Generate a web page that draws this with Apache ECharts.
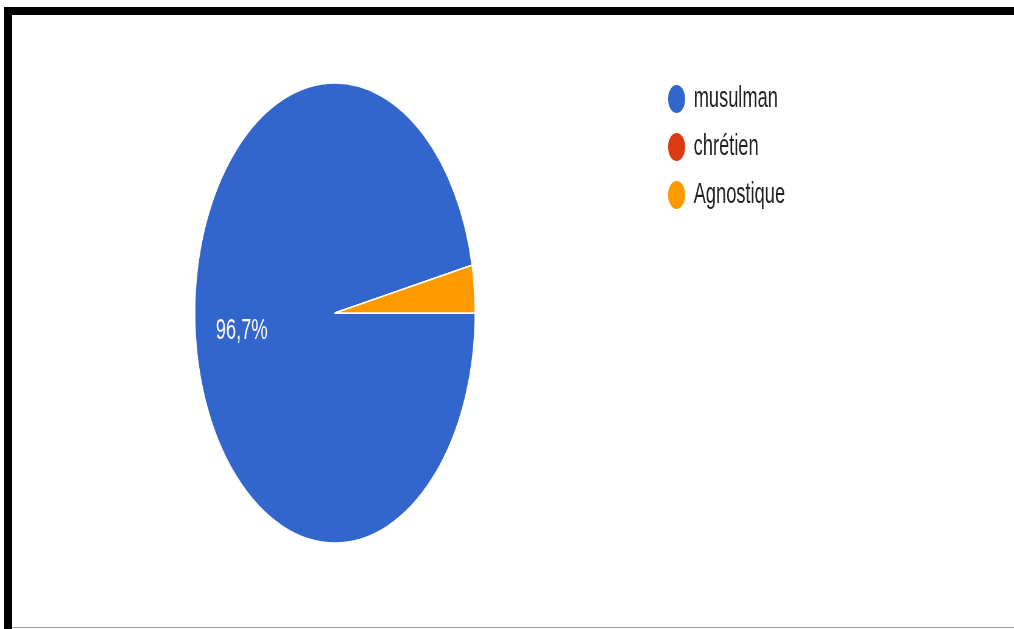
<!DOCTYPE html>
<html>
<head>
<meta charset="utf-8">
<script src="https://cdn.jsdelivr.net/npm/echarts@6/dist/echarts.min.js"></script>
<style>
    html, body { margin:0; padding:0; background:#fff; overflow:hidden; }
    #frame { position:absolute; left:0; top:0; width:1014px; height:629px; }
    #chart { position:absolute; left:0; top:0; width:1665px; height:629px;
             transform:scaleX(0.609); transform-origin:0 0; }
    .bar { position:absolute; background:#000; }
</style>
</head>
<body>
<div id="frame">
    <div id="chart"></div>
    <div class="bar" style="left:4px;top:7px;width:1010px;height:8px;"></div>
    <div class="bar" style="left:4px;top:7px;width:8px;height:622px;"></div>
    <div class="bar" style="left:12px;top:627px;width:1002px;height:1px;background:#999;"></div>
</div>
<script>
// donnees (30 reponses)
var categories = ['musulman', 'chrétien', 'Agnostique'];
var counts = [29, 0, 1];
var colors = ['#3366cc', '#dc3912', '#ff9900'];

var chart = echarts.init(document.getElementById('chart'));

var pieData = categories.map(function (name, i) {
    return { name: name, value: counts[i], itemStyle: { color: colors[i] } };
});
var legendData = categories.map(function (name, i) {
    return { name: name, itemStyle: { color: colors[i] } };
});

var option = {
    animation: false,
    legend: {
        orient: 'vertical',
        left: 1090,
        top: 78,
        icon: 'circle',
        itemWidth: 30,
        itemHeight: 30,
        itemGap: 16,
        selectedMode: false,
        data: legendData,
        textStyle: {
            fontFamily: 'Arial, "Liberation Sans"',
            fontSize: 30,
            lineHeight: 30,
            color: '#222',
            padding: [0, 0, 0, 8]
        }
    },
    series: [
        {
            type: 'pie',
            center: [550, 313],
            radius: [0, 230],
            startAngle: 0,
            clockwise: true,
            silent: true,
            data: pieData,
            itemStyle: { borderColor: '#fff', borderWidth: 1.5 },
            label: { show: false },
            labelLine: { show: false }
        },
        {
            // serie invisible, seulement pour placer l'etiquette a ~2/3 du rayon
            type: 'pie',
            center: [550, 315],
            radius: [72, 230],
            startAngle: 0,
            clockwise: true,
            silent: true,
            data: categories.map(function (name, i) {
                return { name: name, value: counts[i] };
            }),
            itemStyle: { color: 'rgba(0,0,0,0)' },
            label: {
                show: true,
                position: 'inside',
                color: '#fff',
                fontFamily: 'Arial, "Liberation Sans"',
                fontSize: 30,
                formatter: function (p) {
                    if (p.percent < 5) return '';
                    return p.percent.toFixed(1).replace('.', ',') + '%';
                }
            },
            labelLine: { show: false }
        }
    ]
};

chart.setOption(option);
window.addEventListener('resize', function () {
    chart.resize();
});
</script>
</body>
</html>
